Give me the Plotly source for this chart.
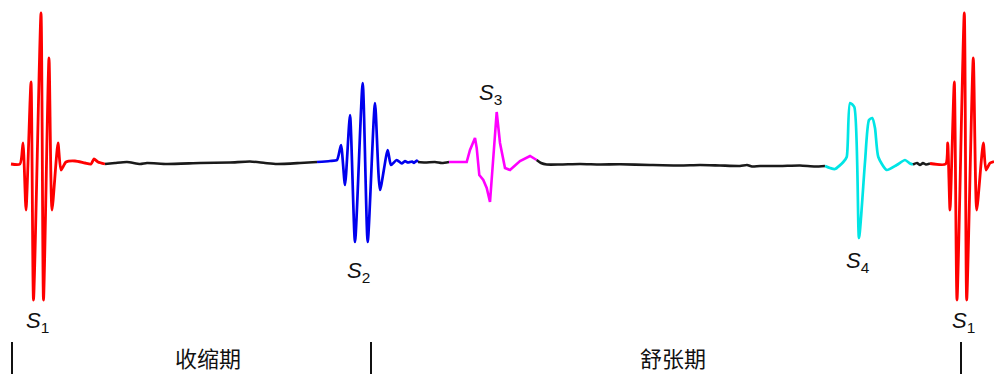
import plotly.graph_objects as go

# Phonocardiogram over one cardiac cycle: S1 -> systole -> S2 -> S3 -> diastole -> S4 -> S1
# time axis in samples, amplitude positive upward

s1a_t = [11, 20, 23, 26, 31, 33.5, 41, 43.5, 49, 52, 58, 61, 66, 75, 85, 91, 94, 98, 105]
s1a_amp = [-1, -1, 20, -47, 81, -137, 150, -137, 105, -47, 20, -7, 1, 2, 0, -1, 4, 1, -1]

sys_t = [105, 115, 127, 140, 147, 167, 200, 230, 250, 265, 277, 300, 317]
sys_amp = [-1, 0, 1, -1, 0, -1, 0, 0.5, 1.5, 0, -1, 0, 1]

s2_t = [317, 330, 337, 341, 345, 350, 355, 362.7, 367.7, 375, 380, 387.7, 391,
        396.7, 401.7, 405, 408, 412, 414, 416.7, 418]
s2_amp = [1, 2, 3, 18, -22, 48, -79, 80, -79, 60, -27, 13, -2,
          3, -0.5, 2, 0.5, 1.5, 0, 2.5, 1]

gap_t = [418, 425, 435, 442, 449]
gap_amp = [1, 0.5, 1, 0, 1]

s3_t = [449, 466.7, 470, 475, 476.7, 479.3, 483.3, 486.7, 490, 493.3, 496.7,
        500, 505, 510, 520, 530, 536.7]
s3_amp = [1, 1, 13, 25, 15, -12, -17, -25, -39, 6, 51, 20, -5, -7, 2, 7, 3]

dia_t = [536.7, 541, 546.7, 560, 580, 600, 620, 650, 680, 700, 720, 740, 747,
         752, 760, 780, 800, 815, 825]
dia_amp = [3, 0, -1.5, -1.5, -1, -1.5, -1.3, -2, -2.5, -2, -2.5, -3, -2,
           -3.5, -3, -3, -2.5, -3.5, -3]

s4_t = [825, 830, 835, 843.3, 846.7, 850, 854.3, 859, 865, 869, 872.3, 875,
        878.3, 886.7, 896.7, 905, 910, 913]
s4_amp = [-3, -5, -6, 1, 6, 60, 56, -75, 1, 43, 45, 35, 6, -7, -2, 3, -0.5, -1.5]

pre_t = [913, 917, 920, 923, 926, 930]
pre_amp = [-1.5, 0, -2, 0, -1.5, -0.5]

s1b_t = [930, 945.7, 947.7, 950, 954.3, 957, 964.3, 966.7, 973.3, 976.7,
         983.3, 986, 990, 994]
s1b_amp = [-0.5, -1, 20, -47, 81, -137, 150, -137, 105, -47, 20, -7, 0, 1.5]

segments = [
    (s1a_t, s1a_amp, "#ff0000", "spline", 2.8),
    (sys_t, sys_amp, "#1a1a1a", "spline", 2.6),
    (s2_t, s2_amp, "#0000ee", "spline", 2.7),
    (gap_t, gap_amp, "#1a1a1a", "spline", 2.6),
    (s3_t, s3_amp, "#ff00ff", "linear", 2.6),
    (dia_t, dia_amp, "#1a1a1a", "spline", 2.6),
    (s4_t, s4_amp, "#00e5e5", "spline", 2.7),
    (pre_t, pre_amp, "#1a1a1a", "spline", 2.6),
    (s1b_t, s1b_amp, "#ff0000", "spline", 2.8),
]

# sound labels
sound_names = ["S", "S", "S", "S", "S"]
sound_subs = ["1", "2", "3", "4", "1"]
sound_x = [37, 358, 490, 858, 963]
sound_y = [-159, -109, 69, -99, -159]

# phase markers and names
phase_bounds = [12, 371, 961]
phase_names = ["收缩期", "舒张期"]
phase_label_x = [208, 673]

fig = go.Figure()
for t, a, color, shape, w in segments:
    fig.add_trace(go.Scatter(
        x=t, y=a, mode="lines",
        line=dict(color=color, width=w, shape=shape, smoothing=0.6),
        hoverinfo="skip", showlegend=False,
    ))

for name, sub, x, y in zip(sound_names, sound_subs, sound_x, sound_y):
    fig.add_annotation(
        x=x, y=y, xref="x", yref="y", showarrow=False,
        text=f"<i>{name}</i><sub>{sub}</sub>",
        font=dict(family="Liberation Sans, Arial", size=22, color="#111111"),
    )

for xb in phase_bounds:
    fig.add_shape(type="line", xref="x", yref="y", x0=xb, x1=xb, y0=-179, y1=-211,
                  line=dict(color="#111111", width=2))

for name, x in zip(phase_names, phase_label_x):
    fig.add_annotation(
        x=x, y=-194, xref="x", yref="y", showarrow=False, text=name,
        borderpad=0,
        font=dict(family="Noto Sans CJK SC", size=22, color="#111111"),
    )

fig.update_layout(
    width=994, height=374,
    margin=dict(l=0, r=0, t=0, b=0),
    paper_bgcolor="white", plot_bgcolor="white",
    xaxis=dict(range=[0, 994], visible=False, fixedrange=True),
    yaxis=dict(range=[-211, 163], visible=False, fixedrange=True),
    showlegend=False,
)

fig.write_html("out.html")
